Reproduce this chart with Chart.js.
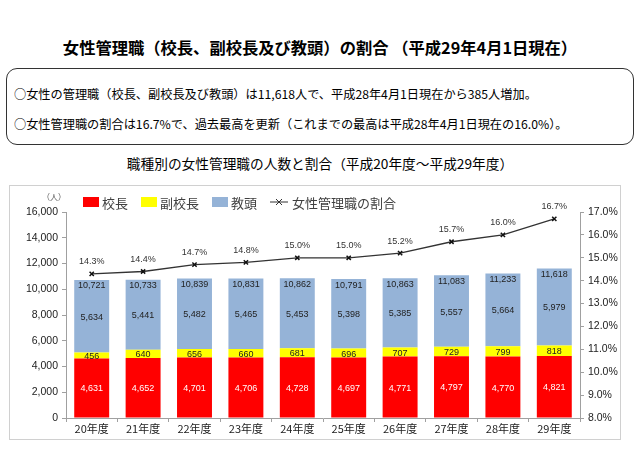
<!DOCTYPE html>
<html>
<head>
<meta charset="utf-8">
<script src="https://cdn.jsdelivr.net/npm/chart.js@4"></script>
<style>
  body { margin: 0; width: 640px; height: 452px; background: #fff; position: relative; overflow: hidden;
         font-family: "Noto Sans CJK JP", sans-serif; color: #000; }
  #title { position: absolute; left: 0; width: 640px; top: 35px; text-align: center; font-size: 16.3px; font-weight: bold; }
  #note { position: absolute; left: 6px; top: 68px; width: 628px; height: 77px; border: 1px solid #333; border-radius: 11px; box-sizing: border-box; }
  .line { position: absolute; left: 7px; font-size: 12.2px; white-space: nowrap; }
  #sub { position: absolute; left: 0; width: 640px; top: 153px; text-align: center; font-size: 13.7px; }
  #wrap { position: absolute; left: 9px; top: 185px; width: 612px; height: 255px; border: 1px solid #d0d0d0; box-sizing: border-box; }
</style>
</head>
<body>
<div id="title">女性管理職（校長、副校長及び教頭）の割合 （平成29年4月1日現在）</div>
<div id="note">
  <div class="line" style="top:16px">○女性の管理職（校長、副校長及び教頭）は11,618人で、平成28年4月1日現在から385人増加。</div>
  <div class="line" style="top:46px">○女性管理職の割合は16.7%で、過去最高を更新（これまでの最高は平成28年4月1日現在の16.0%）。</div>
</div>
<div id="sub">職種別の女性管理職の人数と割合（平成20年度～平成29年度）</div>
<div id="wrap"><canvas id="c" width="610" height="253"></canvas></div>
<script>
// data
const years = ['20年度', '21年度', '22年度', '23年度', '24年度', '25年度', '26年度', '27年度', '28年度', '29年度'];
const kocho = [4631, 4652, 4701, 4706, 4728, 4697, 4771, 4797, 4770, 4821];
const fukuKocho = [456, 640, 656, 660, 681, 696, 707, 729, 799, 818];
const kyoto = [5634, 5441, 5482, 5465, 5453, 5398, 5385, 5557, 5664, 5979];
const totals = [10721, 10733, 10839, 10831, 10862, 10791, 10863, 11083, 11233, 11618];
const ratio = [14.3, 14.4, 14.7, 14.8, 15.0, 15.0, 15.2, 15.7, 16.0, 16.7];

const numFont = '9px "Liberation Sans", sans-serif';
const fmt = v => v.toLocaleString('en-US');

// value labels drawn on top of the bars and line
const labelPlugin = {
    id: 'labels',
    afterDatasetsDraw(chart) {
        const ctx = chart.ctx;
        ctx.save();
        ctx.font = numFont;
        ctx.textAlign = 'center';
        ctx.textBaseline = 'middle';
        [0, 1, 2].forEach(di => {
            chart.getDatasetMeta(di).data.forEach((bar, i) => {
                const mid = (bar.y + bar.base) / 2;
                ctx.fillStyle = di === 0 ? '#fff' : '#222';
                ctx.fillText(fmt(chart.data.datasets[di].data[i]), bar.x, mid + 1);
                if (di === 2) {
                    ctx.fillStyle = '#222';
                    ctx.fillText(fmt(totals[i]), bar.x, bar.y + 6);
                }
            });
        });
        chart.getDatasetMeta(3).data.forEach((pt, i) => {
            ctx.fillStyle = '#333';
            ctx.fillText(ratio[i].toFixed(1) + '%', pt.x, pt.y - 12);
        });
        ctx.restore();
    }
};

// legend drawn by hand so the line entry gets its marker
const legendPlugin = {
    id: 'customLegend',
    afterDraw(chart) {
        const ctx = chart.ctx;
        ctx.save();
        ctx.font = '8px "Noto Sans CJK JP", sans-serif';
        ctx.fillStyle = '#555';
        ctx.textBaseline = 'middle';
        ctx.fillText('（人）', 32, 11);
        ctx.font = '13px "Noto Sans CJK JP", sans-serif';
        let x = 73;
        const y = 16;
        chart.data.datasets.forEach(ds => {
            if (ds.type === 'line') {
                ctx.strokeStyle = '#333';
                ctx.lineWidth = 1;
                ctx.beginPath();
                ctx.moveTo(x, y); ctx.lineTo(x + 18, y); ctx.stroke();
                ctx.beginPath();
                ctx.moveTo(x + 6, y - 3); ctx.lineTo(x + 12, y + 3);
                ctx.moveTo(x + 12, y - 3); ctx.lineTo(x + 6, y + 3);
                ctx.stroke();
                x += 22;
            } else {
                ctx.fillStyle = ds.backgroundColor;
                ctx.fillRect(x, y - 5, 16, 10);
                x += 19;
            }
            ctx.fillStyle = '#404040';
            ctx.fillText(ds.label, x, y + 1);
            x += ctx.measureText(ds.label).width + 13;
        });
        ctx.restore();
    }
};

const tickFont = { family: '"Liberation Sans", sans-serif', size: 10.5 };
const axisGrid = { display: true, drawOnChartArea: false, drawTicks: true, tickLength: 4, color: '#a0a0a0', tickColor: '#a0a0a0' };
const axisBorder = { display: true, color: '#a0a0a0', width: 1 };

new Chart(document.getElementById('c'), {
    data: {
        labels: years,
        datasets: [
            { type: 'bar', label: '校長', data: kocho, backgroundColor: '#ff0000', borderWidth: 0, yAxisID: 'y', order: 2 },
            { type: 'bar', label: '副校長', data: fukuKocho, backgroundColor: '#ffff00', borderWidth: 0, yAxisID: 'y', order: 2 },
            { type: 'bar', label: '教頭', data: kyoto, backgroundColor: '#95b3d7', borderWidth: 0, yAxisID: 'y', order: 2 },
            { type: 'line', label: '女性管理職の割合', data: ratio, yAxisID: 'y2', order: 1,
              borderColor: '#333', borderWidth: 1.3, tension: 0,
              pointStyle: 'crossRot', pointRadius: 3, pointBorderColor: '#111', pointBorderWidth: 1.5 }
        ]
    },
    options: {
        responsive: false,
        animation: false,
        layout: { padding: { top: 26, left: 0, right: 0, bottom: 0 } },
        datasets: { bar: { categoryPercentage: 1, barPercentage: 0.68 } },
        plugins: { legend: { display: false }, tooltip: { enabled: false } },
        scales: {
            x: {
                stacked: true,
                grid: { ...axisGrid, offset: true },
                border: axisBorder,
                ticks: { color: '#222', font: { family: '"Noto Sans CJK JP", sans-serif', size: 11 }, padding: 0 },
                afterFit: s => { s.height = 21; }
            },
            y: {
                stacked: true,
                min: 0, max: 16000,
                ticks: { stepSize: 2000, color: '#222', font: tickFont, padding: 4, callback: v => fmt(v) },
                grid: axisGrid,
                border: axisBorder,
                afterFit: s => { s.width = 56; }
            },
            y2: {
                position: 'right',
                min: 8, max: 17,
                ticks: { stepSize: 1, color: '#222', font: tickFont, padding: 4, callback: v => v.toFixed(1) + '%' },
                grid: axisGrid,
                border: axisBorder,
                afterFit: s => { s.width = 40; }
            }
        }
    },
    plugins: [labelPlugin, legendPlugin]
});
</script>
</body>
</html>
